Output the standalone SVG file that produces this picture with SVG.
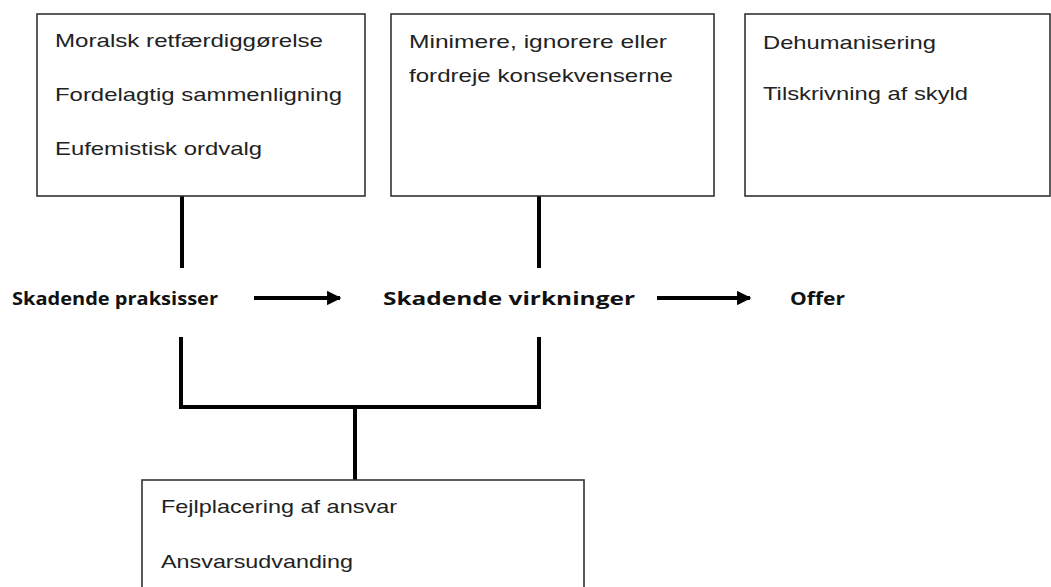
<svg xmlns="http://www.w3.org/2000/svg" width="1051" height="587" viewBox="0 0 1051 587">
<style>
.box{fill:#fff;stroke:#333;stroke-width:1.6}
.t{font-family:"Liberation Sans",Arial,sans-serif;font-size:19px;fill:#222}
.b{font-family:"Open Sans","Liberation Sans",Arial,sans-serif;font-size:18px;font-weight:bold;fill:#111}
.c{fill:none;stroke:#000;stroke-width:4}
</style>
<defs>
<marker id="ah" viewBox="0 0 10 10" refX="9" refY="5" markerWidth="3.6" markerHeight="3.6" orient="auto" markerUnits="strokeWidth">
<path d="M0,0 L10,5 L0,10 z" fill="#000"/>
</marker>
</defs>
<rect width="1051" height="587" fill="#fff"/>
<g id="connectors">
<line class="c" x1="182" y1="196" x2="182" y2="268"/>
<line class="c" x1="539" y1="196" x2="539" y2="268"/>
<polyline class="c" points="181,337 181,407 539,407 539,337"/>
<line class="c" x1="355" y1="407" x2="355" y2="480"/>
<line class="c" x1="254" y1="298" x2="340" y2="298" marker-end="url(#ah)"/>
<line class="c" x1="657" y1="298" x2="750" y2="298" marker-end="url(#ah)"/>
</g>
<g id="box1">
<rect class="box" x="37" y="14" width="328" height="182"/>
<text class="t" x="55" y="47" textLength="268" lengthAdjust="spacingAndGlyphs">Moralsk retfærdiggørelse</text>
<text class="t" x="55" y="101" textLength="287" lengthAdjust="spacingAndGlyphs">Fordelagtig sammenligning</text>
<text class="t" x="55" y="155" textLength="207" lengthAdjust="spacingAndGlyphs">Eufemistisk ordvalg</text>
</g>
<g id="box2">
<rect class="box" x="391" y="14" width="323" height="182"/>
<text class="t" x="409" y="48" textLength="258" lengthAdjust="spacingAndGlyphs">Minimere, ignorere eller</text>
<text class="t" x="409" y="82" textLength="264" lengthAdjust="spacingAndGlyphs">fordreje konsekvenserne</text>
</g>
<g id="box3">
<rect class="box" x="745" y="14" width="305" height="182"/>
<text class="t" x="763" y="49" textLength="173" lengthAdjust="spacingAndGlyphs">Dehumanisering</text>
<text class="t" x="763" y="100" textLength="205" lengthAdjust="spacingAndGlyphs">Tilskrivning af skyld</text>
</g>
<g id="praksisser">
<text class="b" x="12" y="305" textLength="206" lengthAdjust="spacingAndGlyphs">Skadende praksisser</text>
</g>
<g id="virkninger">
<text class="b" x="383" y="305" textLength="252" lengthAdjust="spacingAndGlyphs">Skadende virkninger</text>
</g>
<g id="offer">
<text class="b" x="790" y="305" textLength="55" lengthAdjust="spacingAndGlyphs">Offer</text>
</g>
<g id="box4">
<rect class="box" x="142" y="480" width="442" height="120"/>
<text class="t" x="161" y="513" textLength="236" lengthAdjust="spacingAndGlyphs">Fejlplacering af ansvar</text>
<text class="t" x="161" y="568" textLength="192" lengthAdjust="spacingAndGlyphs">Ansvarsudvanding</text>
</g>
</svg>
